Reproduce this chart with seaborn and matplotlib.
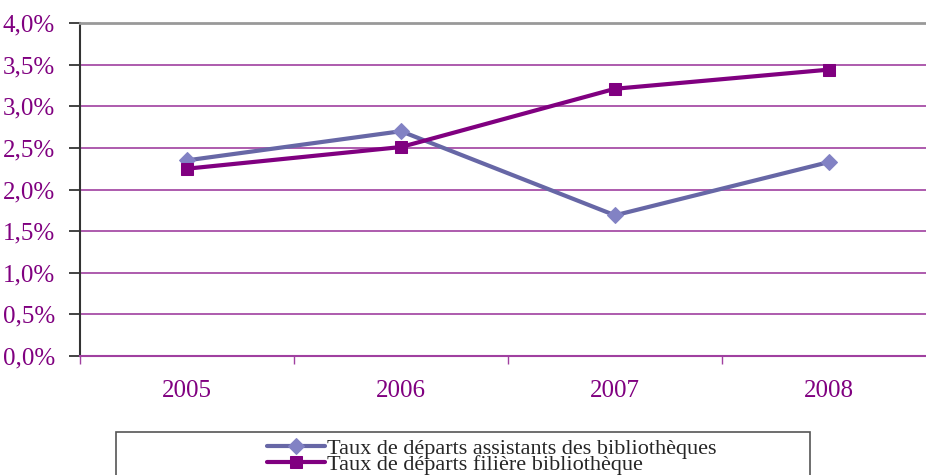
import matplotlib
matplotlib.use("Agg")
import matplotlib.pyplot as plt
from matplotlib.patches import Rectangle
from matplotlib.ticker import FuncFormatter, MultipleLocator, FixedLocator
import seaborn as sns
import pandas as pd

years = ["2005", "2006", "2007", "2008"]
assistants = [2.35, 2.70, 1.69, 2.33]
filiere = [2.25, 2.51, 3.21, 3.44]
labels = ["Taux de départs assistants des bibliothèques",
          "Taux de départs filière bibliothèque"]

sns.set_theme(style="white")
plt.rcParams["font.family"] = ["Liberation Serif", "DejaVu Serif"]

df = pd.DataFrame({
    "annee": years * 2,
    "taux": assistants + filiere,
    "serie": [labels[0]] * 4 + [labels[1]] * 4,
})
df["x"] = df["annee"].map({y: i for i, y in enumerate(years)})

W, H = 926, 475
fig = plt.figure(figsize=(W / 100, H / 100), dpi=100)
left, right, top, bottom = 80, 936, 23, 356
ax = fig.add_axes([left / W, 1 - bottom / H, (right - left) / W, (bottom - top) / H])

purple = "#800080"
grid_purple = "#A040A0"
slate = "#6767A6"

sns.lineplot(data=df[df["serie"] == labels[0]], x="x", y="taux", ax=ax,
             color=slate, linewidth=3, marker="D", markersize=8,
             markerfacecolor="#8282C4", markeredgecolor="#8282C4", label=labels[0])
sns.lineplot(data=df[df["serie"] == labels[1]], x="x", y="taux", ax=ax,
             color=purple, linewidth=3, marker="s", markersize=8,
             markerfacecolor=purple, markeredgecolor=purple, label=labels[1])

ax.set_xlim(-0.5, 3.5)
ax.set_ylim(0, 4.0)
ax.yaxis.set_major_locator(MultipleLocator(0.5))
ax.yaxis.set_major_formatter(FuncFormatter(lambda v, p: f"{v:.1f}%".replace(".", ",")))
ax.set_xticks(range(4))
ax.set_xticklabels(years)
ax.xaxis.set_minor_locator(FixedLocator([-0.5, 0.5, 1.5, 2.5]))
ax.set_xlabel("")
ax.set_ylabel("")

ax.grid(axis="y", color=grid_purple, linewidth=1.2)
ax.grid(axis="x", visible=False)
ax.set_axisbelow(True)

ax.spines["right"].set_visible(False)
ax.spines["top"].set_color("#999999")
ax.spines["top"].set_linewidth(2)
ax.spines["left"].set_color("#333333")
ax.spines["left"].set_linewidth(1.5)
ax.spines["bottom"].set_color(grid_purple)
ax.spines["bottom"].set_linewidth(1.5)

ax.tick_params(axis="y", which="major", direction="out", length=8, width=1.2,
               color="#222222", labelcolor=purple, labelsize=18, pad=10, left=True)
ax.tick_params(axis="x", which="major", length=0, labelcolor=purple,
               labelsize=18, pad=17)
ax.tick_params(axis="x", which="minor", direction="out", length=6, width=1,
               color=grid_purple, bottom=True)

ax.get_legend().remove()
handles, labs = ax.get_legend_handles_labels()

fig.patches.append(Rectangle((116 / W, -0.05), (810 - 116) / W, 0.05 + (1 - 432 / H),
                             transform=fig.transFigure, fill=False,
                             edgecolor="#555555", linewidth=1.2))
fig.legend(handles, labs, loc="upper center", bbox_to_anchor=(492 / W, 1 - 427 / H),
           frameon=False, fontsize=16, labelspacing=-0.2, handlelength=2.6,
           handletextpad=0.1, borderpad=0)

fig.savefig("out.png", dpi=100)
